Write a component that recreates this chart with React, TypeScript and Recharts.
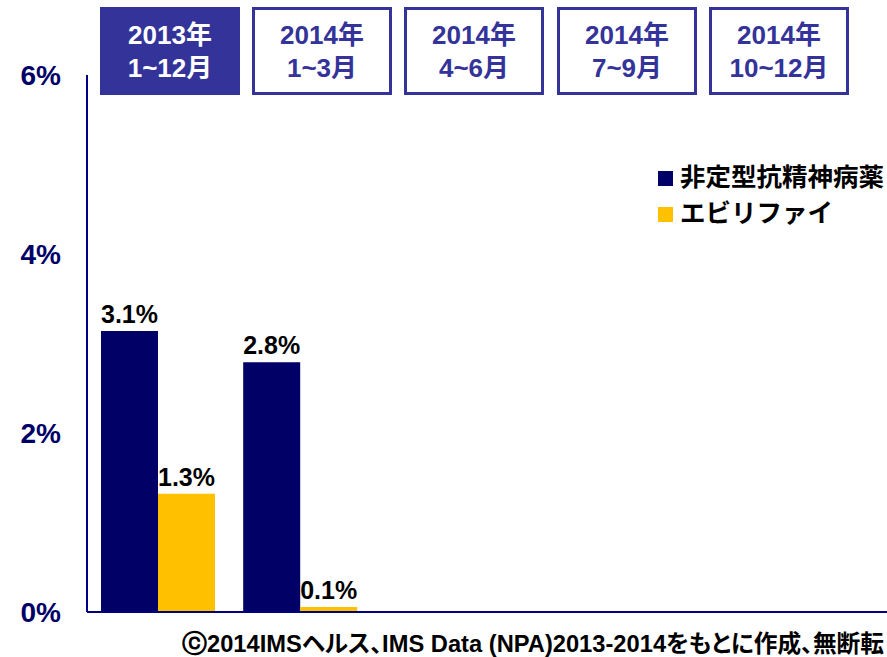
import React from "react";
import { BarChart, Bar, XAxis, YAxis, Legend, LabelList } from "recharts";

const periods = ["2013年\n1~12月", "2014年\n1~3月", "2014年\n4~6月", "2014年\n7~9月", "2014年\n10~12月"];
const atypicalValues: (number | null)[] = [3.14, 2.79, null, null, null];
const abilifyValues: (number | null)[] = [1.32, 0.055, null, null, null];
const yTicks = [0, 2, 4, 6];
const seriesNames = ["非定型抗精神病薬", "エビリファイ"];
const footerMark = "ⓒ";
const footerText = "2014IMSヘルス、IMS Data (NPA)2013-2014をもとに作成、無断転";

const data = periods.map((p, i) => ({
  period: p,
  atypical: atypicalValues[i],
  abilify: abilifyValues[i],
}));

const FONT = '"Liberation Sans", Arial, "Noto Sans CJK JP", sans-serif';
const NAVY = "#000066";
const YELLOW = "#FFC000";
const HEADER = "#333399";

const fmt = (v: any) => (v == null ? "" : `${Number(v).toFixed(1)}%`);

const boxLefts = [100, 252, 404, 557, 709];

const renderLegend = (props: any) => {
  const payload = [...(props.payload || [])].sort(
    (a: any, b: any) => seriesNames.indexOf(a.value) - seriesNames.indexOf(b.value)
  );
  return (
    <div style={{ fontFamily: FONT, fontWeight: 700, fontSize: 25.5, color: "#000", lineHeight: "30px" }}>
      {payload.map((entry: any, i: number) => (
        <div key={i} style={{ display: "flex", alignItems: "flex-end", height: 36 }}>
          <span style={{ display: "inline-block", width: 15, height: 15, background: entry.color, marginRight: 7, marginBottom: 6 }} />
          <span>{entry.value}</span>
        </div>
      ))}
    </div>
  );
};

export default function App() {
  return (
    <div style={{ position: "absolute", left: 0, top: 0, width: 887, height: 657, overflow: "hidden", background: "#fff", fontFamily: FONT }}>
      {periods.map((p, i) => {
        const [l1, l2] = p.split("\n");
        const filled = i === 0;
        return (
          <div
            key={i}
            style={{
              position: "absolute",
              left: boxLefts[i],
              top: 7,
              width: 140,
              height: 88,
              boxSizing: "border-box",
              border: `3px solid ${HEADER}`,
              background: filled ? HEADER : "#fff",
              color: filled ? "#fff" : HEADER,
              fontWeight: 700,
              fontSize: 26,
              lineHeight: "33px",
              textAlign: "center",
              paddingTop: 9,
            }}
          >
            <div>{l1}</div>
            <div>{l2}</div>
          </div>
        );
      })}
      <BarChart
        width={887}
        height={657}
        data={data}
        margin={{ top: 75, right: 0, bottom: 44, left: 0 }}
        barGap={0}
        barSize={57}
      >
        <XAxis
          dataKey="period"
          tick={false}
          tickLine={false}
          height={1}
          axisLine={{ stroke: "#000080", strokeWidth: 2 }}
          padding={{ left: 0, right: 89 }}
        />
        <YAxis
          domain={[0, 6]}
          ticks={yTicks}
          width={87}
          tickLine={false}
          axisLine={{ stroke: "#000080", strokeWidth: 2 }}
          tickMargin={20}
          tickFormatter={(v: number) => `${v}%`}
          tick={{ fill: NAVY, fontSize: 28, fontWeight: 700, fontFamily: FONT }}
        />
        <Legend
          content={renderLegend}
          layout="horizontal"
          verticalAlign="middle"
          align="center"
          wrapperStyle={{ position: "absolute", left: 658, top: 156, width: 229 }}
        />
        <Bar dataKey="atypical" name={seriesNames[0]} fill={NAVY} isAnimationActive={false}>
          <LabelList dataKey="atypical" position="top" formatter={fmt} offset={8} style={{ fill: "#000", fontSize: 25, fontWeight: 700, fontFamily: FONT }} />
        </Bar>
        <Bar dataKey="abilify" name={seriesNames[1]} fill={YELLOW} isAnimationActive={false}>
          <LabelList dataKey="abilify" position="top" formatter={fmt} offset={8} style={{ fill: "#000", fontSize: 25, fontWeight: 700, fontFamily: FONT }} />
        </Bar>
      </BarChart>
      <div
        style={{
          position: "absolute",
          left: 182,
          top: 632,
          whiteSpace: "nowrap",
          fontWeight: 700,
          fontSize: 23.7,
          lineHeight: "24px",
          color: "#000",
          fontFamily: FONT,
          fontFeatureSettings: '"palt"',
        }}
      >
        <span style={{ fontSize: 25, fontFamily: '"DejaVu Sans", sans-serif', lineHeight: "24px", display: "inline-block", verticalAlign: "top" }}>{footerMark}</span>
        {footerText}
      </div>
    </div>
  );
}
